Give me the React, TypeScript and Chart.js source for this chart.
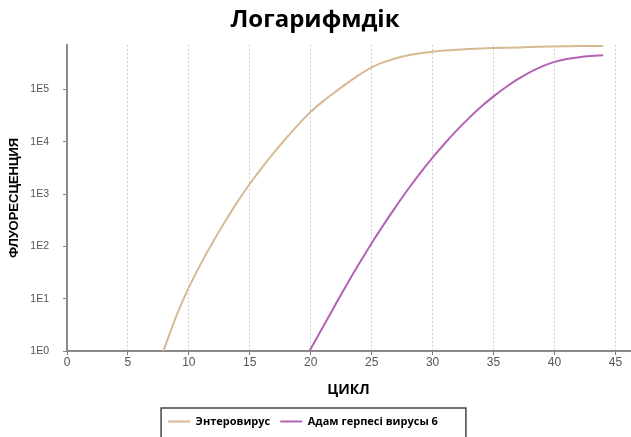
import React, { useEffect, useRef } from 'react';
import { Chart, registerables } from 'chart.js';

Chart.register(...registerables);

const TITLE = 'Логарифмдік';
const X_TITLE = 'ЦИКЛ';
const Y_TITLE = 'ФЛУОРЕСЦЕНЦИЯ';
const SERIES_NAMES = ['Энтеровирус', 'Адам герпесі вирусы 6'];

const X_TICKS = [0, 5, 10, 15, 20, 25, 30, 35, 40, 45];
const Y_TICKS = [1, 10, 100, 1000, 10000, 100000];
const Y_TICK_LABELS = ['1E0', '1E1', '1E2', '1E3', '1E4', '1E5'];

const enteroCycles = [7.9, 8, 9, 10, 11, 12, 13, 14, 15, 16, 17, 18, 19, 20, 21, 22, 23, 24, 25, 26, 27, 28, 29, 30, 31, 32, 33, 34, 35, 36, 37, 38, 39, 40, 41, 42, 43, 44];
const enteroValues = [1, 1.15, 4.84, 16.4, 47.3, 124, 305, 716, 1570, 3200, 6240, 11750, 21400, 37150, 58900, 89100, 131800, 190500, 263000, 331000, 393600, 446700, 489800, 524800, 552100, 572800, 588800, 602600, 613800, 623700, 631000, 645700, 653100, 660700, 665300, 669900, 673000, 676100];

const herpesCycles = [19.9, 20, 21, 22, 23, 24, 25, 26, 27, 28, 29, 30, 31, 32, 33, 34, 35, 36, 37, 38, 39, 40, 41, 42, 43, 44];
const herpesValues = [1, 1.1, 2.88, 7.5, 19.3, 47.9, 115, 263, 582, 1245, 2540, 4955, 9230, 16600, 28500, 46800, 73300, 109600, 156700, 213800, 275400, 335000, 380200, 412100, 433500, 446700];

const X_MIN = 0;
const X_MAX = 46.2;
const Y_MIN = 1;
const Y_MAX = 710000;

const COLORS = ['#D6BA93', '#B463B4'];
const LEGEND_SHIFT = -12;

const legendBox = {
  id: 'legendBox',
  afterUpdate(chart: any) {
    const lg = chart.legend;
    if (!lg) return;
    lg.left += LEGEND_SHIFT;
    lg.right += LEGEND_SHIFT;
    (lg.legendHitBoxes || []).forEach((h: any) => {
      h.left += LEGEND_SHIFT;
    });
  },
  afterDraw(chart: any) {
    const lg = chart.legend;
    if (!lg || !lg.legendHitBoxes || !lg.legendHitBoxes.length) return;
    const hb = lg.legendHitBoxes;
    const left = Math.min(...hb.map((h: any) => h.left)) - 7;
    const right = Math.max(...hb.map((h: any) => h.left + h.width)) + 28;
    const top = hb[0].top - 8;
    const ctx = chart.ctx;
    ctx.save();
    ctx.strokeStyle = '#444';
    ctx.lineWidth = 1.5;
    ctx.strokeRect(left, top, right - left, chart.height - top + 20);
    ctx.restore();
  },
};

export default function App() {
  const ref = useRef<HTMLCanvasElement>(null);

  useEffect(() => {
    document.body.style.margin = '0';
    const canvas = ref.current;
    if (!canvas) return;
    const chart = new Chart(canvas, {
      type: 'line',
      data: {
        datasets: [
          {
            label: SERIES_NAMES[0],
            data: enteroCycles.map((c, i) => ({ x: c, y: enteroValues[i] })),
            borderColor: COLORS[0],
            backgroundColor: COLORS[0],
            borderWidth: 2,
            pointRadius: 0,
            cubicInterpolationMode: 'monotone',
          },
          {
            label: SERIES_NAMES[1],
            data: herpesCycles.map((c, i) => ({ x: c, y: herpesValues[i] })),
            borderColor: COLORS[1],
            backgroundColor: COLORS[1],
            borderWidth: 2,
            pointRadius: 0,
            cubicInterpolationMode: 'monotone',
          },
        ],
      },
      options: {
        responsive: false,
        animation: false,
        devicePixelRatio: 1,
        layout: { padding: { left: 0, right: 1, top: 0, bottom: 0 } },
        plugins: {
          title: {
            display: true,
            text: TITLE,
            color: '#000',
            font: { family: '"Open Sans", sans-serif', size: 24, weight: 'bold' },
            padding: { top: 6, bottom: 10 },
          },
          legend: {
            display: true,
            position: 'bottom',
            labels: {
              boxWidth: 22,
              boxHeight: 2,
              padding: 10,
              color: '#000',
              font: { family: '"Open Sans", sans-serif', size: 11, weight: 'bold' },
              generateLabels: (ch: any) =>
                Chart.defaults.plugins.legend.labels.generateLabels(ch).map((l: any) => ({
                  ...l,
                  lineWidth: 0,
                  fillStyle: l.strokeStyle,
                })),
            },
          },
          tooltip: { enabled: false },
        },
        scales: {
          x: {
            type: 'linear',
            position: 'bottom',
            min: X_MIN,
            max: X_MAX,
            afterBuildTicks: (s: any) => {
              s.ticks = X_TICKS.map((v) => ({ value: v }));
            },
            afterFit: (s: any) => {
              s.height = 55;
            },
            ticks: {
              color: '#555',
              font: { family: '"Liberation Sans", Arial, sans-serif', size: 12 },
              padding: 0,
              maxRotation: 0,
              autoSkip: false,
              callback: (v: any) => String(v),
            },
            grid: {
              color: '#cfcfcf',
              lineWidth: 1,
              tickColor: '#777',
              tickLength: 4,
              tickBorderDash: [],
            },
            border: { color: '#8a8a8a', width: 2, dash: [2, 2] },
            title: {
              display: true,
              text: X_TITLE,
              color: '#000',
              font: { family: '"Open Sans", sans-serif', size: 14, weight: 'bold' },
              padding: { top: 0, bottom: 8 },
            },
          },
          y: {
            type: 'logarithmic',
            position: 'left',
            min: Y_MIN,
            max: Y_MAX,
            afterBuildTicks: (s: any) => {
              s.ticks = Y_TICKS.map((v) => ({ value: v }));
            },
            afterFit: (s: any) => {
              s.width = 67;
            },
            ticks: {
              color: '#555',
              font: { family: '"Liberation Sans", Arial, sans-serif', size: 10.5 },
              padding: 14,
              autoSkip: false,
              callback: (v: any) => Y_TICK_LABELS[Y_TICKS.indexOf(Number(v))] ?? '',
            },
            grid: {
              drawOnChartArea: false,
              drawTicks: true,
              tickLength: 4,
              tickColor: '#888',
            },
            border: { color: '#8a8a8a', width: 2 },
            title: {
              display: true,
              text: Y_TITLE,
              color: '#000',
              font: { family: '"Liberation Sans", Arial, sans-serif', size: 13, weight: 'bold' },
              padding: { top: 7, bottom: 0 },
            },
          },
        },
      },
      plugins: [legendBox],
    } as any);
    return () => chart.destroy();
  }, []);

  return (
    <div style={{ width: 631, height: 437, background: '#fff' }}>
      <canvas ref={ref} width={631} height={437} style={{ display: 'block', width: 631, height: 437 }} />
    </div>
  );
}
